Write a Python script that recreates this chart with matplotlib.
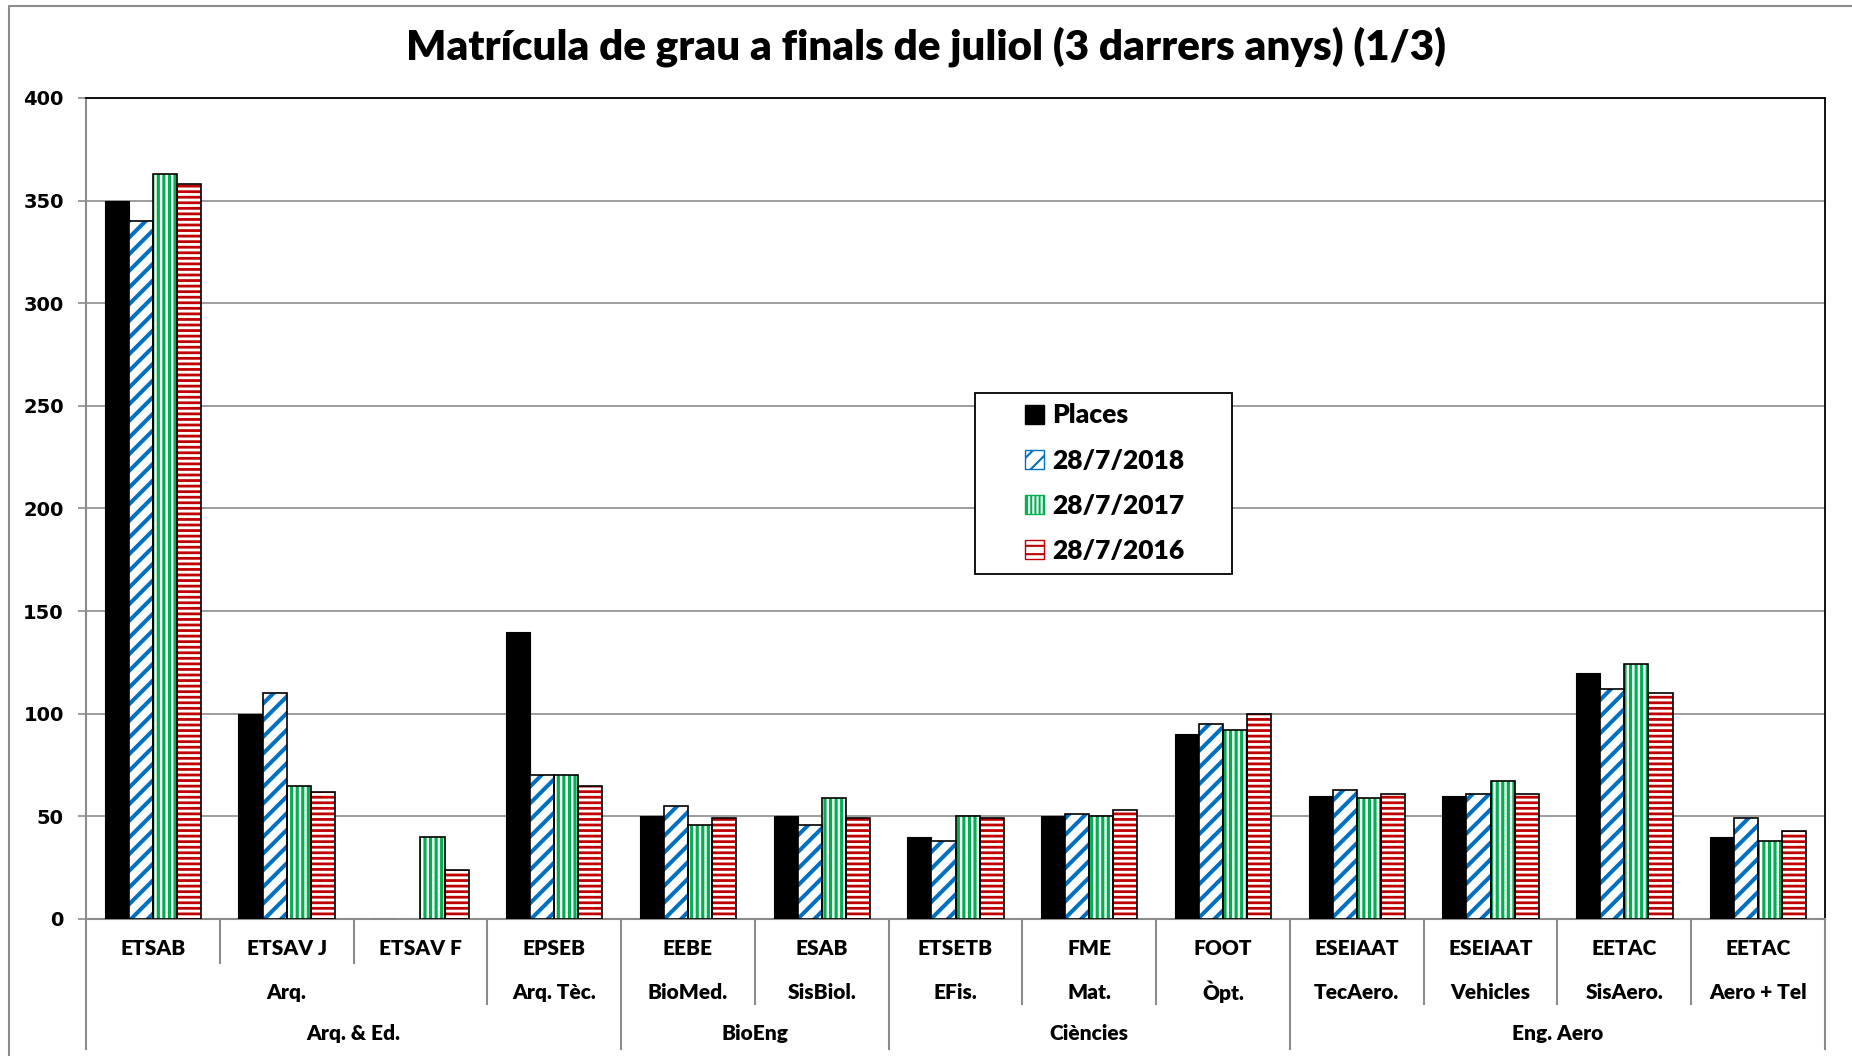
import matplotlib
import matplotlib.pyplot as plt
import numpy as np
from matplotlib import font_manager
from matplotlib.patches import Patch, Rectangle
from matplotlib.lines import Line2D

matplotlib.use("agg")

# data
schools = ["ETSAB", "ETSAV J", "ETSAV F", "EPSEB", "EEBE", "ESAB", "ETSETB",
           "FME", "FOOT", "ESEIAAT", "ESEIAAT", "EETAC", "EETAC"]
degrees = [("Arq.", 3), ("Arq. Tèc.", 1), ("BioMed.", 1), ("SisBiol.", 1),
           ("EFis.", 1), ("Mat.", 1), ("Òpt.", 1), ("TecAero.", 1),
           ("Vehicles", 1), ("SisAero.", 1), ("Aero + Tel", 1)]
areas = [("Arq. & Ed.", 4), ("BioEng", 2), ("Ciències", 3), ("Eng. Aero", 4)]

places = [350, 100, 0, 140, 50, 50, 40, 50, 90, 60, 60, 120, 40]
jul2018 = [340, 110, 0, 70, 55, 46, 38, 51, 95, 63, 61, 112, 49]
jul2017 = [363, 65, 40, 70, 46, 59, 50, 50, 92, 59, 67, 124, 38]
jul2016 = [358, 62, 24, 65, 49, 49, 49, 53, 100, 61, 61, 110, 43]

series_names = ["Places", "28/7/2018", "28/7/2017", "28/7/2016"]

names = {f.name for f in font_manager.fontManager.ttflist}
for fam in ["Liberation Sans Narrow", "DejaVu Sans Condensed", "Lato"]:
    if fam in names:
        font = fam
        break
else:
    font = "DejaVu Sans"
plt.rcParams["font.family"] = font
plt.rcParams["font.weight"] = "heavy"

fig = plt.figure(figsize=(18.52, 10.56), dpi=100)
ax = fig.add_axes([86 / 1852, 1 - 919 / 1056, (1825 - 86) / 1852, (919 - 98) / 1056])

x = np.arange(len(schools))
w = 0.18
grid_col = "#8c8c8c"

ax.bar(x - 1.5 * w, places, w, color="black", edgecolor="black", lw=0.8, zorder=3)

styles = [("#0070C0", "//", 2.9), ("#00B050", "|||", 2.3), ("#C00000", "---", 2.0)]
for k, (vals, (col, hatch, hlw)) in enumerate(zip([jul2018, jul2017, jul2016], styles)):
    plt.rcParams["hatch.linewidth"] = hlw
    pos = x + (k - 0.5) * w
    h = [v if v > 0 else np.nan for v in vals]
    ax.bar(pos, h, w, facecolor="white", edgecolor=col, hatch=hatch, lw=0, zorder=3)
    ax.bar(pos, h, w, fill=False, edgecolor="black", lw=1.2, zorder=4)

ax.set_xlim(-0.5, len(schools) - 0.5)
ax.set_ylim(0, 400)
ax.set_yticks(range(0, 401, 50))
ax.yaxis.grid(True, color=grid_col, lw=1.2, zorder=0)
ax.tick_params(axis="y", length=6, color=grid_col, width=1.2, pad=10)
for t in ax.get_yticklabels():
    t.set_fontfamily("DejaVu Sans")
    t.set_fontweight("bold")
    t.set_fontsize(14)
ax.set_xticks([])
for s in ["left", "bottom"]:
    ax.spines[s].set_color(grid_col)
    ax.spines[s].set_linewidth(1.5)
for s in ["top", "right"]:
    ax.spines[s].set_color("black")
    ax.spines[s].set_linewidth(1.3)

# multi-level category labels
tr = ax.get_xaxis_transform()
lv_y = [-0.0358, -0.089, -0.139]
lv_bot = [-0.053, -0.1035, -0.158]
for i, s in enumerate(schools):
    ax.text(i, lv_y[0], s, transform=tr, ha="center", va="center", fontsize=15)


def group_edges(groups):
    edges, start = [], 0
    for label, n in groups:
        edges.append((label, start, start + n))
        start += n
    return edges


deg_edges = group_edges(degrees)
area_edges = group_edges(areas)
for label, a, b in deg_edges:
    ax.text((a + b - 1) / 2, lv_y[1], label, transform=tr, ha="center", va="center", fontsize=15)
for label, a, b in area_edges:
    ax.text((a + b - 1) / 2, lv_y[2], label, transform=tr, ha="center", va="center", fontsize=15)

area_b = {a for _, a, _ in area_edges} | {b for _, _, b in area_edges}
deg_b = {a for _, a, _ in deg_edges} | {b for _, _, b in deg_edges}
for bnd in range(len(schools) + 1):
    if bnd in area_b:
        bot = lv_bot[2]
    elif bnd in deg_b:
        bot = lv_bot[1]
    else:
        bot = lv_bot[0]
    ax.add_line(Line2D([bnd - 0.5, bnd - 0.5], [0, bot], transform=tr, color=grid_col,
                       lw=1.5, clip_on=False))

# legend: frame drawn separately, entries inside it
ax.add_patch(Rectangle((0.511, 0.42), 0.148, 0.221, transform=ax.transAxes, facecolor="white",
                       edgecolor="black", lw=1.3, zorder=5))
plt.rcParams["hatch.linewidth"] = 1.5
handles = [Patch(facecolor="black", edgecolor="black")]
for col, hatch in [("#0070C0", "//"), ("#00B050", "||||"), ("#C00000", "--")]:
    handles.append(Patch(facecolor="white", edgecolor=col, hatch=hatch))
leg = ax.legend(handles, series_names, loc="upper left", bbox_to_anchor=(0.540, 0.628),
                fontsize=19, frameon=False, handlelength=0.72, handleheight=0.72,
                handletextpad=0.3, labelspacing=0.8, borderpad=0, borderaxespad=0)
leg.set_zorder(6)
for t in leg.get_texts():
    t.set_fontweight("heavy")

fig.text(0.5, 1 - 47 / 1056, "Matrícula de grau a finals de juliol (3 darrers anys) (1/3)",
         ha="center", va="center", fontsize=30.3, fontweight="heavy")

# chart border (top & left visible in the original crop)
fig.add_artist(Line2D([9 / 1852, 9 / 1852, 1], [0, 1 - 6 / 1056, 1 - 6 / 1056],
                      transform=fig.transFigure, color=grid_col, lw=1.5))

fig.savefig("out.png", dpi=100)
